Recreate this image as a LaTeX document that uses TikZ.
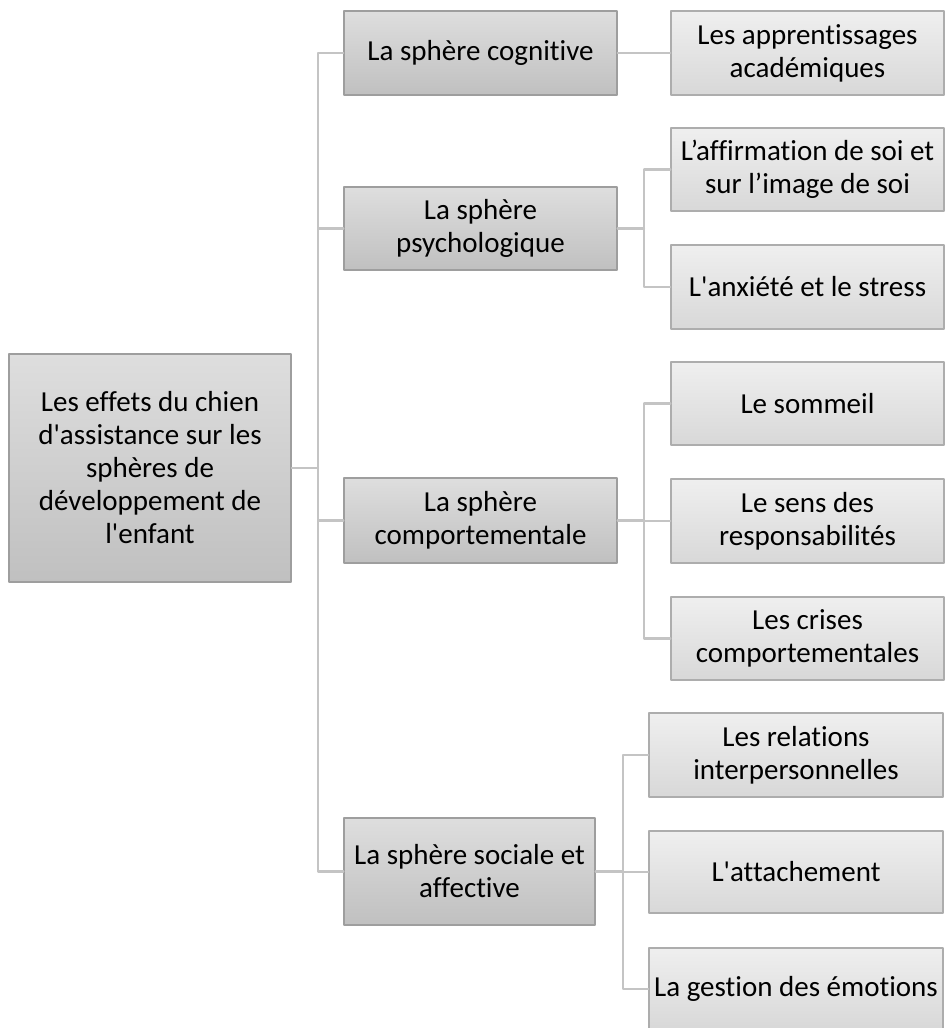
\documentclass[tikz,border=0pt]{standalone}
\usepackage{fontspec}
\setmainfont{Carlito}[Ligatures={TeXOff,CommonOff}]
\usepackage{xcolor}
\usepackage{tikz}
\definecolor{boxtop}{HTML}{DEDEDE}
\definecolor{boxbot}{HTML}{C0C0C0}
\definecolor{leaftop}{HTML}{EFEFEF}
\definecolor{leafbot}{HTML}{D8D8D8}
\definecolor{boxrule}{HTML}{9E9E9E}
\definecolor{linkgrey}{HTML}{C4C4C4}

\begin{document}
\begin{tikzpicture}[x=1pt, y=-1pt, line cap=round, line join=round,
  every node/.style={font=\fontsize{29}{33}\selectfont, align=center, inner sep=0pt},
  sphbox/.style={draw=boxrule, line width=1.3, top color=boxtop, bottom color=boxbot, rectangle},
  leafbox/.style={draw=boxrule!85, line width=1.3, top color=leaftop, bottom color=leafbot, rectangle,
    minimum width=273, minimum height=84},
  link/.style={linkgrey, line width=2.2}]
  \useasboundingbox (0,0) rectangle (946,1028);
  % root + spheres
  \node[sphbox, minimum width=282, minimum height=228] (root) at (150,468)
    {Les effets du chien\\d'assistance sur les\\sphères de\\développement de\\l'enfant};
  \node[sphbox, minimum width=273, minimum height=84] (cog) at (480.5,53) {La sphère cognitive};
  \node[sphbox, minimum width=273, minimum height=83] (psy) at (480.5,228.5) {La sphère\\psychologique};
  \node[sphbox, minimum width=273, minimum height=85] (comp) at (480.5,520.5) {La sphère\\comportementale};
  \node[sphbox, minimum width=251, minimum height=107] (soc) at (469.5,871.5) {La sphère sociale et\\affective};
  % effects
  \node[leafbox] (app) at (807.5,53) {Les apprentissages\\académiques};
  \node[leafbox, minimum height=83] (aff) at (807.5,169.5) {L’affirmation de soi et\\sur l’image de soi};
  \node[leafbox] (anx) at (807.5,287) {L'anxiété et le stress};
  \node[leafbox, minimum height=83] (som) at (807.5,403.5) {Le sommeil};
  \node[leafbox] (sens) at (807.5,521) {Le sens des\\responsabilités};
  \node[leafbox, minimum height=83] (cris) at (807.5,638.5) {Les crises\\comportementales};
  \node[leafbox, minimum width=294] (rel) at (796,755) {Les relations\\interpersonnelles};
  \node[leafbox, minimum width=294, minimum height=82] (att) at (796,872) {L'attachement};
  \node[leafbox, minimum width=294, minimum height=82] (gest) at (796,989) {La gestion des émotions};
  % links
  \coordinate (t0) at (318,468);
  \coordinate (t1) at (644,228.5);
  \coordinate (t2) at (644,520.5);
  \coordinate (t3) at (623,871.5);
  \draw[link] (root.east) -- (t0);
  \foreach \s in {cog,psy,comp,soc} { \draw[link] (t0) |- (\s.west); }
  \draw[link] (cog.east) -- (app.west);
  \draw[link] (psy.east) -- (t1);
  \foreach \s in {aff,anx} { \draw[link] (t1) |- (\s.west); }
  \draw[link] (comp.east) -- (t2);
  \foreach \s in {som,sens,cris} { \draw[link] (t2) |- (\s.west); }
  \draw[link] (soc.east) -- (t3);
  \foreach \s in {rel,att,gest} { \draw[link] (t3) |- (\s.west); }
\end{tikzpicture}
\end{document}
